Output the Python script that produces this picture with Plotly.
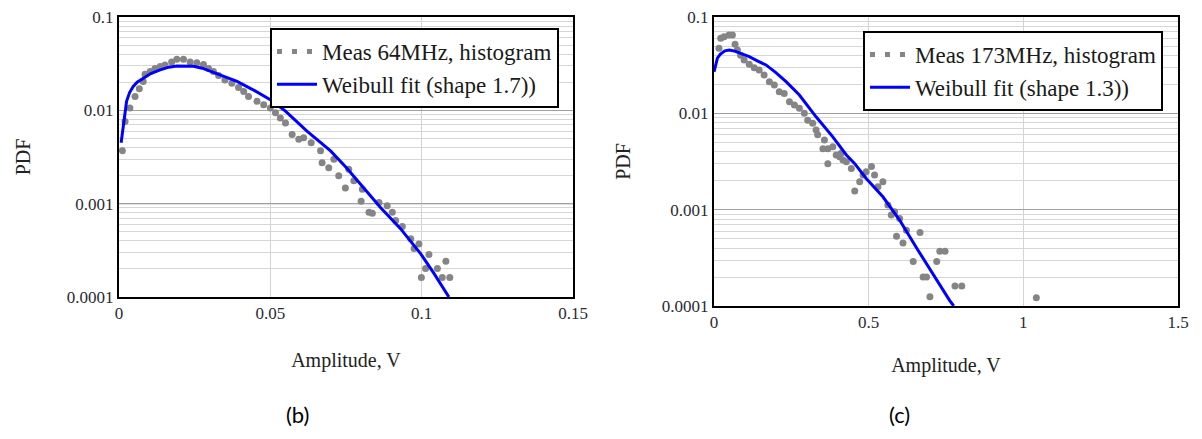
import plotly.graph_objects as go

# ---------------- data: panel (b) 64 MHz ----------------
b_meas_x = [0.0011, 0.002, 0.0036, 0.0053, 0.0067, 0.008, 0.0086, 0.0103, 0.0119, 0.0136,
            0.0152, 0.0174, 0.0191, 0.0213, 0.0235, 0.0257, 0.0279, 0.0296, 0.0312, 0.0329,
            0.035, 0.0373, 0.0395, 0.0412, 0.0428, 0.0456, 0.0478, 0.05, 0.0517, 0.0533,
            0.055, 0.0572, 0.0594, 0.061, 0.0635, 0.0666, 0.0671, 0.0693, 0.071, 0.0726,
            0.0748, 0.0759, 0.0776, 0.0804, 0.08, 0.0826, 0.0837, 0.0859, 0.0886, 0.0903,
            0.0914, 0.0936, 0.0964, 0.0975, 0.0991, 0.0999, 0.1013, 0.1024, 0.1052, 0.1068,
            0.108, 0.1093]
b_meas_y = [0.0037, 0.0076, 0.0106, 0.0141, 0.017, 0.0204, 0.0243, 0.026, 0.028, 0.0294,
            0.0306, 0.033, 0.0352, 0.0352, 0.033, 0.0324, 0.031, 0.028, 0.026, 0.0236,
            0.0212, 0.0195, 0.0176, 0.0159, 0.0141, 0.0125, 0.0115, 0.0106, 0.0094, 0.0083,
            0.0073, 0.0055, 0.0049, 0.0051, 0.0045, 0.0037, 0.00275, 0.00243, 0.0030, 0.00199,
            0.00147, 0.00234, 0.00176, 0.00143, 0.00106, 0.00081, 0.00079, 0.00103, 0.00095, 0.00081,
            0.00066, 0.00057, 0.00042, 0.00033, 0.00037, 0.000162, 0.000202, 0.000286, 0.000202, 0.000162,
            0.000241, 0.000162]
b_fit_x = [0.0007, 0.0015, 0.0025, 0.0035, 0.0047, 0.006, 0.008, 0.0105, 0.0136, 0.0165,
           0.0191, 0.022, 0.0246, 0.0275, 0.0301, 0.034, 0.039, 0.044, 0.05, 0.055,
           0.0621, 0.0665, 0.0699, 0.075, 0.0798, 0.0864, 0.093, 0.0997, 0.104, 0.109]
b_fit_y = [0.0045, 0.0075, 0.0125, 0.0155, 0.018, 0.020, 0.022, 0.0248, 0.0271, 0.0290,
           0.0298, 0.0300, 0.0297, 0.0283, 0.0264, 0.0236, 0.0204, 0.0168, 0.0130, 0.0098,
           0.0060, 0.0046, 0.00367, 0.00245, 0.00162, 0.00091, 0.00054, 0.00029, 0.00018, 0.0001]

# ---------------- data: panel (c) 173 MHz ----------------
c_meas_x = [0.016, 0.0217, 0.0325, 0.0487, 0.0595, 0.068, 0.0757, 0.086, 0.0974, 0.114,
            0.13, 0.146, 0.162, 0.179, 0.195, 0.211, 0.227, 0.244, 0.26, 0.276,
            0.292, 0.303, 0.319, 0.33, 0.335, 0.352, 0.357, 0.368, 0.368, 0.384,
            0.395, 0.406, 0.411, 0.417, 0.428, 0.444, 0.455, 0.471, 0.482, 0.492,
            0.509, 0.519, 0.53, 0.546, 0.562, 0.573, 0.584, 0.59, 0.6, 0.611,
            0.622, 0.644, 0.666, 0.676, 0.687, 0.698, 0.72, 0.73, 0.747, 0.779,
            0.801, 1.042]
c_meas_y = [0.0473, 0.060, 0.0625, 0.065, 0.065, 0.052, 0.0454, 0.040, 0.0357, 0.0323,
            0.0298, 0.0282, 0.025, 0.0213, 0.0197, 0.0168, 0.0161, 0.0132, 0.0122, 0.0113,
            0.0100, 0.0085, 0.0079, 0.0067, 0.006, 0.0043, 0.0053, 0.0043, 0.003, 0.0045,
            0.0037, 0.00354, 0.00385, 0.00327, 0.00315, 0.00268, 0.00156, 0.00195, 0.00229, 0.00248,
            0.0028, 0.00229, 0.00173, 0.00195, 0.00112, 0.00088, 0.00095, 0.00053, 0.00081, 0.00045,
            0.00061, 0.00029, 0.00058, 0.0002, 0.0002, 0.000125, 0.00029, 0.00037, 0.00037, 0.000161,
            0.000161, 0.000122]
c_fit_x = [0.0, 0.005, 0.011, 0.02, 0.035, 0.05, 0.07, 0.09, 0.114, 0.14,
           0.168, 0.2, 0.233, 0.276, 0.33, 0.384, 0.428, 0.455, 0.492, 0.546,
           0.6, 0.655, 0.709, 0.761, 0.775]
c_fit_y = [0.027, 0.032, 0.0373, 0.041, 0.0445, 0.0455, 0.0440, 0.0415, 0.0387, 0.035,
           0.0318, 0.0265, 0.0213, 0.0155, 0.0092, 0.0057, 0.0037, 0.003, 0.00211, 0.00136,
           0.00078, 0.00040, 0.00021, 0.000115, 0.0001]

# ---------------- ticks / labels ----------------
y_tickvals = [1e-4, 1e-3, 1e-2, 1e-1]
y_ticktext = ["0.0001", "0.001", "0.01", "0.1"]
b_xtickvals = [0, 0.05, 0.1, 0.15]
b_xticktext = ["0", "0.05", "0.1", "0.15"]
c_xtickvals = [0, 0.5, 1, 1.5]
c_xticktext = ["0", "0.5", "1", "1.5"]
y_minor = [m * 10.0 ** e for e in (-4, -3, -2) for m in range(2, 10)]

b_names = ["Meas 64MHz, histogram", "Weibull fit (shape 1.7))"]
c_names = ["Meas 173MHz, histogram", "Weibull fit (shape 1.3))"]

SERIF = "Liberation Serif, Times New Roman, serif"
GRAY = "#858585"
BLUE = "#0000ff"
TXT = "#2a2a35"

# page body has an 8px margin; figure sized to fit the window
OFF = 8
W, H = 1202 - 2 * OFF, 439 - 2 * OFF

def px(s):
    return (s - OFF) / W

def py(s):
    return 1 - (s - OFF) / H

fig = go.Figure()

def add_panel(mx, my, fx, fy, names, xa, ya, leg, grp):
    fig.add_trace(go.Scatter(x=mx, y=my, mode="markers", xaxis=xa, yaxis=ya,
                             marker=dict(color=GRAY, size=7), showlegend=False,
                             legendgroup=grp + "m", name=names[0]))
    # legend entry for the dotted measurement symbol
    fig.add_trace(go.Scatter(x=[None], y=[None], mode="lines", xaxis=xa, yaxis=ya,
                             line=dict(color=GRAY, width=5, dash="5px,10px"),
                             legend=leg, legendgroup=grp + "m", name=names[0]))
    fig.add_trace(go.Scatter(x=fx, y=fy, mode="lines", xaxis=xa, yaxis=ya,
                             line=dict(color=BLUE, width=3), legend=leg,
                             legendgroup=grp + "f", name=names[1]))

add_panel(b_meas_x, b_meas_y, b_fit_x, b_fit_y, b_names, "x", "y", "legend", "b")
add_panel(c_meas_x, c_meas_y, c_fit_x, c_fit_y, c_names, "x2", "y2", "legend2", "c")

def xax(domain, rng, tv, tt, standoff):
    return dict(domain=domain, range=rng, tickvals=tv, ticktext=tt, ticks="",
                automargin=False, ticklabeloverflow="allow",
                showgrid=True, gridcolor="#d4d4d4", gridwidth=1, zeroline=False,
                showline=True, linecolor="black", linewidth=2, mirror=True,
                tickfont=dict(family=SERIF, size=17, color=TXT), ticklabelstandoff=0,
                title=dict(text="Amplitude, V", font=dict(family=SERIF, size=20, color="#222"),
                           standoff=standoff))

def yax(domain, anchor, standoff):
    return dict(domain=domain, type="log", range=[-4, -1], anchor=anchor,
                automargin=False, ticklabeloverflow="allow",
                tickvals=y_tickvals, ticktext=y_ticktext, ticks="",
                showgrid=True, gridcolor="#a0a0a0", gridwidth=1, zeroline=False,
                minor=dict(tickmode="array", tickvals=y_minor, showgrid=True,
                           gridcolor="#d6d6d6", gridwidth=1, ticks=""),
                showline=True, linecolor="black", linewidth=2, mirror=True,
                tickfont=dict(family=SERIF, size=17, color=TXT), ticklabelstandoff=0,
                title=dict(text="PDF", font=dict(family=SERIF, size=20, color="#222"),
                           standoff=standoff))

LEGFONT = dict(family=SERIF, size=23, color="#1a1a1a")
SANS = dict(family="Lato, Open Sans, sans-serif", size=22, color="black")

fig.update_layout(
    width=W, height=H, margin=dict(l=0, r=0, t=0, b=0, autoexpand=False),
    paper_bgcolor="white", plot_bgcolor="white",
    xaxis=dict(**xax([px(119), px(573)], [0, 0.15], b_xtickvals, b_xticktext, 31), anchor="y"),
    yaxis=yax([py(297), py(17)], "x", 31),
    xaxis2=dict(**xax([px(714), px(1178)], [0, 1.5], c_xtickvals, c_xticktext, 27), anchor="y2"),
    yaxis2=yax([py(306), py(17)], "x2", 26),
    legend=dict(x=px(559), y=py(28), xanchor="right", yanchor="top",
                bgcolor="white", bordercolor="black", borderwidth=2,
                font=LEGFONT, tracegroupgap=0, itemwidth=40),
    legend2=dict(x=px(1163), y=py(31), xanchor="right", yanchor="top",
                 bgcolor="white", bordercolor="black", borderwidth=2,
                 font=LEGFONT, tracegroupgap=0, itemwidth=40),
    shapes=[dict(type="line", xref="x domain", yref="y", x0=0, x1=1, y0=1e-3, y1=1e-3,
                 line=dict(color="#333333", width=1), layer="below")],
    annotations=[
        dict(text="(b)", xref="paper", yref="paper", x=px(297), y=py(414),
             xanchor="center", yanchor="middle", showarrow=False, font=SANS),
        dict(text="(c)", xref="paper", yref="paper", x=px(899), y=py(414),
             xanchor="center", yanchor="middle", showarrow=False, font=SANS),
    ],
)

fig.write_html("out.html")
